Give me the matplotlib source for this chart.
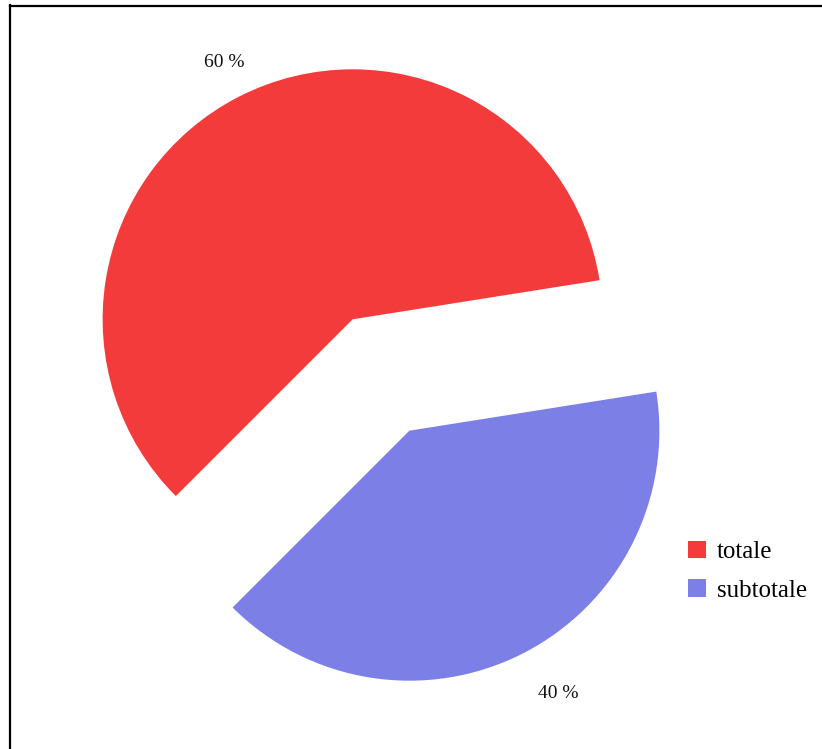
import numpy as np
import matplotlib.pyplot as plt
from matplotlib.lines import Line2D

# share of totale vs subtotale
labels = ["totale", "subtotale"]
values = [60, 40]
colors = ["#F33B3B", "#7B7FE6"]

W, H = 822, 749
R = 250
fig = plt.figure(figsize=(W / 100, H / 100), dpi=100)
ax = fig.add_axes([0, 0, 1, 1])

# explode is in data units here, so scale it by the radius
wedges, texts, autotexts = ax.pie(
    values,
    colors=colors,
    startangle=9,
    explode=[0.25 * R, 0.25 * R],
    radius=R,
    center=(381, H - 375),
    autopct="%.0f %%",
    pctdistance=1.17,
    wedgeprops=dict(linewidth=0),
    textprops=dict(family="Liberation Serif", fontsize=14, color="#111111"),
)

# push each percentage label out from its own wedge
label_dist = [1.15, 1.21]
label_turn = [-0.5, 2.5]
for w, t, d, a in zip(wedges, autotexts, label_dist, label_turn):
    th = np.deg2rad((w.theta1 + w.theta2) / 2 + a)
    cx, cy = w.center
    t.set_position((cx + d * R * np.cos(th), cy + d * R * np.sin(th)))

ax.set_xlim(0, W)
ax.set_ylim(0, H)
ax.set_aspect("equal")
ax.axis("off")

leg = ax.legend(
    wedges, labels,
    loc="upper left",
    bbox_to_anchor=(670 / W, 1 - 523 / H),
    frameon=False,
    prop=dict(family="Liberation Serif", size=18),
    handlelength=0.72,
    handleheight=0.72,
    handletextpad=0.45,
    labelspacing=0.65,
    borderpad=0.2,
)

# page border on the left and top
fig.add_artist(Line2D([9.5 / W, 9.5 / W], [0, 1 - 5 / H], color="black", lw=1.6, transform=fig.transFigure))
fig.add_artist(Line2D([9.5 / W, 1], [1 - 5.5 / H, 1 - 5.5 / H], color="black", lw=1.6, transform=fig.transFigure))

fig.savefig("out.png", dpi=100)
